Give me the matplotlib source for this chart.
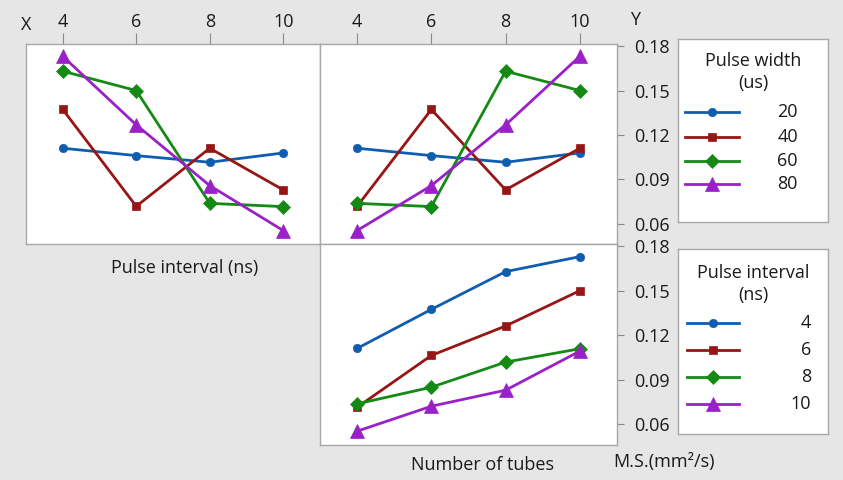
import matplotlib.pyplot as plt
import numpy as np

plt.rcParams['font.family'] = ['Open Sans', 'DejaVu Sans']
plt.rcParams['font.size'] = 13

# factor levels on the x axes
levels = [4, 6, 8, 10]
width_labels = ['20', '40', '60', '80']
interval_labels = ['4', '6', '8', '10']

# mean Y vs pulse interval, one row per pulse width
y_width_interval = [
    [0.1110, 0.1060, 0.1015, 0.1078],
    [0.1372, 0.0717, 0.1110, 0.0828],
    [0.1631, 0.1500, 0.0737, 0.0715],
    [0.1732, 0.1268, 0.0857, 0.0553],
]
# mean Y vs number of tubes, one row per pulse width
y_width_tubes = [
    [0.1110, 0.1060, 0.1015, 0.1078],
    [0.0717, 0.1372, 0.0828, 0.1110],
    [0.0737, 0.0715, 0.1631, 0.1500],
    [0.0553, 0.0857, 0.1268, 0.1732],
]
# mean Y vs number of tubes, one row per pulse interval
y_interval_tubes = [
    [0.1112, 0.1375, 0.1629, 0.1730],
    [0.0716, 0.1065, 0.1263, 0.1501],
    [0.0739, 0.0851, 0.1020, 0.1110],
    [0.0555, 0.0723, 0.0831, 0.1094],
]

yticks = [0.06, 0.09, 0.12, 0.15, 0.18]

colors = ['#105db0', '#961616', '#148a14', '#9a20c8']
markers = ['o', 's', 'D', '^']
msizes = [6, 6.3, 7, 9.5]
bg = '#e6e6e6'
frame = '#a8a8a8'

fig = plt.figure(figsize=(8.43, 4.8), dpi=100, facecolor=bg)
W, H = 843, 480


def px_rect(x0, y0, x1, y1):
    # pixel box (top-left origin) -> figure fraction
    return [x0 / W, 1 - y1 / H, (x1 - x0) / W, (y1 - y0) / H]


def setup(ax, top_ticks, right_ticks):
    ax.set_xlim(3.0, 11.0)
    ax.set_ylim(0.0462, 0.1815)
    for s in ax.spines.values():
        s.set_color(frame)
        s.set_linewidth(1)
    ax.set_xticks(levels)
    ax.set_yticks(yticks)
    ax.tick_params(colors='#888888', labelcolor='#1a1a1a', labelsize=13)
    if top_ticks:
        ax.xaxis.tick_top()
        ax.tick_params(axis='x', direction='out', length=8, pad=1)
    else:
        ax.tick_params(axis='x', length=0, labelbottom=False)
    if right_ticks:
        ax.yaxis.tick_right()
        ax.tick_params(axis='y', direction='out', length=5, pad=7)
        ax.set_yticklabels(['%.2f' % v for v in yticks])
    else:
        ax.tick_params(axis='y', length=0, labelleft=False, labelright=False)


def draw_series(ax, table):
    for i, row in enumerate(table):
        ax.plot(levels, row, color=colors[i], lw=2, marker=markers[i],
                ms=msizes[i], mew=0.5, mec=colors[i], mfc=colors[i])


ax_tl = fig.add_axes(px_rect(26, 44, 320, 244))
ax_tr = fig.add_axes(px_rect(320, 44, 617, 244))
ax_br = fig.add_axes(px_rect(320, 244, 617, 445))

setup(ax_tl, True, False)
setup(ax_tr, True, True)
setup(ax_br, False, True)

draw_series(ax_tl, y_width_interval)
draw_series(ax_tr, y_width_tubes)
draw_series(ax_br, y_interval_tubes)


def draw_legend(box, title, labels, rows, title_rows, label_right, line_x):
    x0, y0, x1, y1 = box
    lax = fig.add_axes(px_rect(x0, y0, x1, y1))
    lax.set_xlim(x0, x1)
    lax.set_ylim(y1, y0)
    lax.set_xticks([])
    lax.set_yticks([])
    lax.set_facecolor('white')
    for s in lax.spines.values():
        s.set_color(frame)
        s.set_linewidth(1)
    cx = (x0 + x1) / 2
    for line, ty in zip(title.split('\n'), title_rows):
        lax.text(cx, ty, line, ha='center', va='center', color='#1a1a1a')
    for i, (lab, ry) in enumerate(zip(labels, rows)):
        lax.plot(line_x, [ry, ry], color=colors[i], lw=2)
        lax.plot([np.mean(line_x)], [ry], color=colors[i], marker=markers[i],
                 ms=msizes[i], mew=0.5, mec=colors[i], mfc=colors[i])
        lax.text(label_right, ry, lab, ha='right', va='center', color='#1a1a1a')


draw_legend((678, 39, 828, 222), 'Pulse width\n(us)', width_labels,
            [112, 137, 161, 184], [61, 83], 798, [685, 739])
draw_legend((678, 249, 828, 434), 'Pulse interval\n(ns)', interval_labels,
            [323, 350, 377, 404], [273, 295], 811, [687, 739])

# axis captions
fig.text(26 / W, 1 - 25 / H, 'X', ha='center', va='center', color='#1a1a1a')
fig.text(635 / W, 1 - 20 / H, 'Y', ha='center', va='center', color='#1a1a1a')
fig.text(185 / W, 1 - 268 / H, 'Pulse interval (ns)', ha='center', va='center', color='#1a1a1a')
fig.text(482 / W, 1 - 465 / H, 'Number of tubes', ha='center', va='center', color='#1a1a1a')
fig.text(613 / W, 1 - 462 / H, 'M.S.(mm²/s)', ha='left', va='center', color='#1a1a1a')

fig.savefig('out.png', dpi=100, facecolor=bg)
